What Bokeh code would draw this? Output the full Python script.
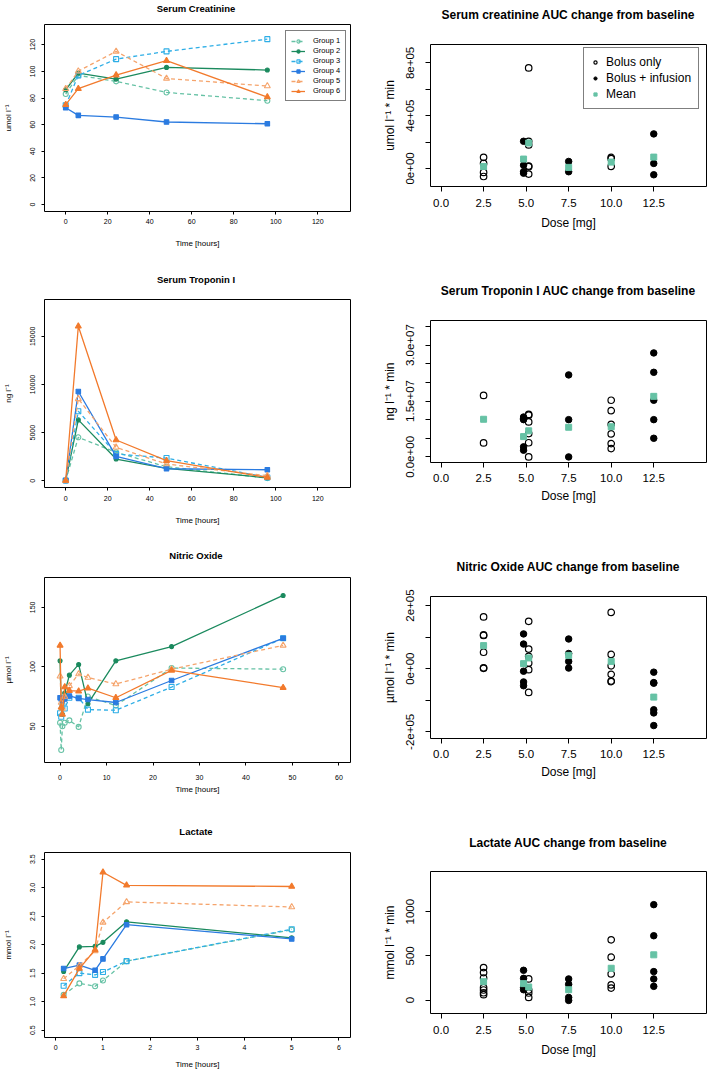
from bokeh.plotting import figure
from bokeh.layouts import column, row
from bokeh.models import Range1d, FixedTicker, Legend, LegendItem, Div
from bokeh.embed import file_html
from bokeh.resources import INLINE

FONT = "Liberation Sans"

# ---------------- time-course data ----------------
group_names = ["Group 1", "Group 2", "Group 3", "Group 4", "Group 5", "Group 6"]

creat_time = [0, 6, 24, 48, 96]
creat = {
    "Group 1": [83.0, 97.0, 92.5, 84.2, 78.0],
    "Group 2": [86.2, 98.7, 94.2, 103.0, 101.0],
    "Group 3": [74.5, 97.0, 109.2, 115.0, 124.2],
    "Group 4": [72.7, 67.0, 65.7, 62.0, 60.7],
    "Group 5": [87.0, 100.2, 115.0, 94.7, 89.0],
    "Group 6": [75.0, 87.0, 97.2, 108.0, 80.7],
}

tropo_time = [0, 6, 24, 48, 96]
tropo = {
    "Group 1": [30, 4514, 2951, 1458, 278],
    "Group 2": [30, 6319, 2257, 1285, 312],
    "Group 3": [30, 7222, 2778, 2361, 347],
    "Group 4": [30, 9270, 2535, 1250, 1146],
    "Group 5": [30, 8507, 3472, 1736, 521],
    "Group 6": [30, 16040, 4236, 2083, 347],
}

no_time = [0, 0.25, 0.5, 1, 2, 4, 6, 12, 24, 48]
no = {
    "Group 1": [53, 30, 50, 53, 55, 49.5, 75, 67.5, 99, 98],
    "Group 2": [105, 65, 60, 78, 93, 102, 69, 105, 117, 160],
    "Group 3": [61, 58, 67, 65, 74, 74, 64, 63.5, 83, 124],
    "Group 4": [74, 73, 72, 73, 75.5, 73.5, 72.5, 70, 88.5, 124],
    "Group 5": [92, 70, 65, 75, 84, 94, 91, 85.5, 98, 118],
    "Group 6": [118, 66, 60, 83, 80, 79.5, 82, 74, 97, 82.5],
}

lac_time = [1 / 6, 0.5, 5 / 6, 1.0, 1.5, 5.0]
lac = {
    "Group 1": [1.12, 1.32, 1.27, 1.37, 1.71, 2.26],
    "Group 2": [1.53, 1.96, 1.97, 2.04, 2.40, 2.12],
    "Group 3": [1.28, 1.50, 1.47, 1.52, 1.71, 2.27],
    "Group 4": [1.58, 1.64, 1.55, 1.75, 2.35, 2.10],
    "Group 5": [1.40, 1.63, 1.89, 2.39, 2.75, 2.66],
    "Group 6": [1.10, 1.58, 1.91, 3.27, 3.04, 3.02],
}

# ---------------- AUC data (dose -> values) ----------------
cr_bolus = {2.5: [0.84e5, 0.38e5, -0.30e5, -0.61e5],
            5.0: [7.62e5, 2.06e5, 1.78e5, 0.18e5, 0.13e5, -0.43e5],
            10.0: [0.84e5, 0.74e5, 0.15e5]}
cr_infusion = {5.0: [2.06e5, 0.25e5, -0.25e5, -0.36e5],
               7.5: [0.53e5, -0.25e5],
               12.5: [2.62e5, 0.38e5, -0.48e5]}
cr_bolus_mean = {2.5: 0.15e5, 5.0: 1.93e5, 10.0: 0.48e5}
cr_infusion_mean = {5.0: 0.71e5, 7.5: 0.08e5, 12.5: 0.86e5}

tr_bolus = {2.5: [1.65e7, 0.375e7],
            5.0: [1.14e7, 1.12e7, 0.94e7, 0.625e7, 0.38e7, 0.0],
            10.0: [1.52e7, 1.24e7, 0.875e7, 0.616e7, 0.357e7, 0.223e7]}
tr_infusion = {5.0: [1.07e7, 1.03e7, 1.0e7, 0.27e7, 0.18e7],
               7.5: [2.2e7, 1.0e7, 0.0],
               12.5: [2.79e7, 2.27e7, 1.52e7, 1.0e7, 0.5e7]}
tr_bolus_mean = {2.5: 1.01e7, 5.0: 0.70e7, 10.0: 0.81e7}
tr_infusion_mean = {5.0: 0.545e7, 7.5: 0.795e7, 12.5: 1.625e7}

no_bolus = {2.5: [1.64e5, 1.07e5, 1.05e5, 0.52e5, 0.03e5, 0.01e5],
            5.0: [1.5e5, 0.62e5, 0.39e5, 0.18e5, -0.03e5, -0.75e5],
            10.0: [1.78e5, 0.45e5, 0.09e5, -0.18e5, -0.39e5, -0.41e5]}
no_infusion = {5.0: [1.1e5, 0.78e5, -0.08e5, -0.42e5, -0.54e5],
               7.5: [0.94e5, 0.48e5, 0.23e5, 0.02e5],
               12.5: [-0.11e5, -0.44e5, -0.46e5, -1.3e5, -1.4e5, -1.8e5]}
no_bolus_mean = {2.5: 0.73e5, 5.0: 0.34e5, 10.0: 0.23e5}
no_infusion_mean = {5.0: 0.16e5, 7.5: 0.42e5, 12.5: -0.9e5}

la_bolus = {2.5: [368, 311, 250, 140, 114, 83, 61],
            5.0: [239, 114, 80, 30],
            10.0: [682, 485, 296, 171, 136]}
la_infusion = {5.0: [337, 246, 144, 117],
               7.5: [239, 178, 30, -4],
               12.5: [1080, 728, 322, 239, 155]}
la_bolus_mean = {2.5: 208, 5.0: 148, 10.0: 360}
la_infusion_mean = {5.0: 186, 7.5: 117, 12.5: 512}

# ---------------- styles ----------------
group_colors = ["#66c2a5", "#1b8a5e", "#2eaee6", "#2b7be0", "#f5a46c", "#f27a2c"]
group_dash = ["4 3", "solid", "4 3", "solid", "4 3", "solid"]
group_marker = ["circle", "circle", "square", "square", "triangle", "triangle"]
group_filled = [False, True, False, True, False, True]
group_size = [5, 4, 5, 4.5, 6, 6]
MEAN_COLOR = "#66c2a5"

LEFT_W, RIGHT_W = 355, 353
LEFT_B, RIGHT_B = (42, 5), (75, 2)


def title_div(text, width, frame_left, frame_w, pad_top, line_h, font_size):
    html = ('<div style="margin-left:%dpx;width:%dpx;padding-top:%dpx;text-align:center;'
            "font-family:'Liberation Sans',Arial,sans-serif;font-weight:bold;font-size:%s;"
            'line-height:%dpx;color:#000;white-space:nowrap">%s</div>'
            % (frame_left, frame_w, pad_top, font_size, line_h, text))
    return Div(text=html, width=width, height=pad_top + line_h, margin=(0, 0, 0, 0))


def base_fig(w, h, xr, yr, borders, xlabel, ylabel):
    p = figure(width=w, height=h, x_range=Range1d(*xr), y_range=Range1d(*yr),
               output_backend="svg", toolbar_location=None,
               min_border_left=borders[0], min_border_right=borders[1],
               min_border_top=borders[2], min_border_bottom=borders[3],
               x_axis_label=xlabel, y_axis_label=ylabel)
    p.xgrid.visible = False
    p.ygrid.visible = False
    p.outline_line_color = "black"
    p.outline_line_width = 1
    p.outline_line_alpha = 1
    p.background_fill_color = "white"
    p.border_fill_color = "white"
    return p


def style_axis(ax, ticks, labels, tick_out, tick_fs, lab_fs, tick_standoff, lab_standoff, vertical=False):
    ax.ticker = FixedTicker(ticks=ticks)
    ax.major_label_overrides = {t: l for t, l in zip(ticks, labels)}
    ax.axis_line_color = None
    ax.major_tick_line_color = "black"
    ax.major_tick_in = 0
    ax.major_tick_out = tick_out
    ax.minor_tick_line_color = None
    ax.major_label_text_font = FONT
    ax.major_label_text_font_size = tick_fs
    ax.major_label_text_color = "black"
    ax.major_label_standoff = tick_standoff
    ax.axis_label_text_font = FONT
    ax.axis_label_text_font_size = lab_fs
    ax.axis_label_text_font_style = "normal"
    ax.axis_label_text_color = "black"
    ax.axis_label_standoff = lab_standoff
    if vertical:
        ax.major_label_orientation = "vertical"


def draw_groups(p, times, data):
    items = []
    for i, g in enumerate(group_names):
        ys = data[g]
        r1 = p.line(times, ys, line_color=group_colors[i], line_width=1.3, line_dash=group_dash[i])
        r2 = p.scatter(times, ys, marker=group_marker[i], size=group_size[i],
                       line_color=group_colors[i], line_width=1.1,
                       fill_color=group_colors[i] if group_filled[i] else None)
        items.append(LegendItem(label=g, renderers=[r1, r2]))
    return items


def time_fig(h, top, bottom, xr, yr, xticks, yticks, ylabels, ylab,
             x_tick_standoff, x_lab_standoff, times, data, legend=False):
    p = base_fig(LEFT_W, h, xr, yr, (LEFT_B[0], LEFT_B[1], top, bottom), "Time [hours]", ylab)
    style_axis(p.xaxis[0], xticks, [str(t) for t in xticks], 3, "7px", "8px", x_tick_standoff, x_lab_standoff)
    style_axis(p.yaxis[0], yticks, ylabels, 3, "7px", "8px", 6, 15, vertical=True)
    items = draw_groups(p, times, data)
    if legend:
        lg = Legend(items=items, location=(241, 110))
        lg.label_text_font = FONT
        lg.label_text_font_size = "7.5px"
        lg.label_text_color = "black"
        lg.glyph_width = 14
        lg.glyph_height = 8
        lg.label_height = 8
        lg.spacing = 1
        lg.padding = 5
        lg.margin = 0
        lg.label_standoff = 8
        lg.border_line_color = "black"
        lg.border_line_width = 1
        lg.background_fill_color = "white"
        lg.background_fill_alpha = 1
        p.add_layout(lg)
    return p


def dose_x(dose, sign, bolus, infusion):
    if dose in bolus and dose in infusion:
        return dose + sign * 0.15
    return dose


def auc_fig(h, top, bottom, yr, yticks, ylabels, ylab,
            x_tick_standoff, x_lab_standoff, bolus, infusion, bolus_mean, infusion_mean, legend=False):
    xticks = [0.0, 2.5, 5.0, 7.5, 10.0, 12.5]
    p = base_fig(RIGHT_W, h, (-0.62, 15.6), yr, (RIGHT_B[0], RIGHT_B[1], top, bottom), "Dose [mg]", ylab)
    style_axis(p.xaxis[0], xticks, ["0.0", "2.5", "5.0", "7.5", "10.0", "12.5"], 5, "11.5px", "12px",
               x_tick_standoff, x_lab_standoff)
    style_axis(p.yaxis[0], yticks, ylabels, 5, "11.5px", "12px", 11, 7, vertical=True)

    bx, by = [], []
    for d, vals in bolus.items():
        for v in vals:
            bx.append(dose_x(d, 1, bolus, infusion))
            by.append(v)
    ix, iy = [], []
    for d, vals in infusion.items():
        for v in vals:
            ix.append(dose_x(d, -1, bolus, infusion))
            iy.append(v)
    mx, my = [], []
    for d, v in bolus_mean.items():
        mx.append(dose_x(d, 1, bolus, infusion))
        my.append(v)
    for d, v in infusion_mean.items():
        mx.append(dose_x(d, -1, bolus, infusion))
        my.append(v)

    r_b = p.scatter(bx, by, marker="circle", size=6.5, line_color="black", line_width=1.2, fill_color=None)
    r_i = p.scatter(ix, iy, marker="circle", size=6.5, line_color="black", fill_color="black")
    r_m = p.scatter(mx, my, marker="square", size=6, line_color=MEAN_COLOR, fill_color=MEAN_COLOR)
    if legend:
        lg = Legend(items=[LegendItem(label="Bolus only", renderers=[r_b]),
                           LegendItem(label="Bolus + infusion", renderers=[r_i]),
                           LegendItem(label="Mean", renderers=[r_m])],
                    location=(153, 77))
        lg.label_text_font = FONT
        lg.label_text_font_size = "12px"
        lg.label_text_color = "black"
        lg.glyph_width = 8
        lg.glyph_height = 14
        lg.label_height = 14
        lg.spacing = 2
        lg.padding = 7
        lg.margin = 0
        lg.label_standoff = 7
        lg.border_line_color = "black"
        lg.border_line_width = 1
        lg.background_fill_color = "white"
        lg.background_fill_alpha = 1
        p.add_layout(lg)
    return p


def left_title(text, pad_top, line_h=12):
    return title_div(text, LEFT_W, LEFT_B[0], 308, pad_top, line_h, "9.5px")


def right_title(text, pad_top):
    return title_div(text, RIGHT_W, RIGHT_B[0], 276, pad_top, 14, "12px")


# ---------------- panels ----------------
t1 = left_title("Serum Creatinine", 0, 12)
f1 = time_fig(253, 12, 54, (-10.1, 135.6), (-5.2, 135.2),
              [0, 20, 40, 60, 80, 100, 120], [0, 20, 40, 60, 80, 100, 120],
              ["0", "20", "40", "60", "80", "100", "120"], "umol l\u207b\u00b9",
              4, 12, creat_time, creat, legend=True)
t3 = left_title("Serum Troponin I", 9)
f3 = time_fig(244, 13, 43, (-10.1, 135.6), (-698, 18823),
              [0, 20, 40, 60, 80, 100, 120], [0, 5000, 10000, 15000],
              ["0", "5000", "10000", "15000"], "ng l\u207b\u00b9",
              5, 12, tropo_time, tropo)
t5 = left_title("Nitric Oxide", 20)
f5 = time_fig(238, 15, 38, (-3.35, 62.5), (19.55, 175.1),
              [0, 10, 20, 30, 40, 50, 60], [50, 100, 150],
              ["50", "100", "150"], "\u00b5mol l\u207b\u00b9",
              9, 2, no_time, no)
t7 = left_title("Lactate", 26)
f7 = time_fig(233, 14, 32, (-0.239, 6.246), (0.371, 3.616),
              [0, 1, 2, 3, 4, 5, 6], [0.5, 1.0, 1.5, 2.0, 2.5, 3.0, 3.5],
              ["0.5", "1.0", "1.5", "2.0", "2.5", "3.0", "3.5"], "mmol l\u207b\u00b9",
              4, 7, lac_time, lac)

t2 = right_title("Serum creatinine AUC change from baseline", 8)
f2 = auc_fig(243, 22, 79, (-1.37e5, 9.40e5), [0, 2e5, 4e5, 6e5, 8e5], ["0e+00", "", "4e+05", "", "8e+05"],
             "umol l\u207b\u00b9 * min", 7, 6, cr_bolus, cr_infusion, cr_bolus_mean, cr_infusion_mean,
             legend=True)
t4 = right_title("Serum Troponin I AUC change from baseline", 19)
f4 = auc_fig(232, 22, 68, (-1.5e6, 3.66e7), [0, 5e6, 1e7, 1.5e7, 2e7, 2.5e7, 3e7, 3.5e7],
             ["0.0e+00", "", "", "1.5e+07", "", "", "3.0e+07", ""],
             "ng l\u207b\u00b9 * min", 6, 4, tr_bolus, tr_infusion, tr_bolus_mean, tr_infusion_mean)
t6 = right_title("Nitric Oxide AUC change from baseline", 30)
f6 = auc_fig(226, 22, 62, (-2.21e5, 2.285e5), [-2e5, -1e5, 0, 1e5, 2e5], ["-2e+05", "", "0e+00", "", "2e+05"],
             "\u00b5mol l\u207b\u00b9 * min", 6, 4, no_bolus, no_infusion, no_bolus_mean, no_infusion_mean)
t8 = right_title("Lactate AUC change from baseline", 36)
f8 = auc_fig(221, 21, 58, (-152, 1455), [0, 500, 1000], ["0", "500", "1000"],
             "mmol l\u207b\u00b9 * min", 7, 6, la_bolus, la_infusion, la_bolus_mean, la_infusion_mean)

layout = row(column(t1, f1, t3, f3, t5, f5, t7, f7),
             column(t2, f2, t4, f4, t6, f6, t8, f8))

open("out.html", "w").write(file_html(layout, INLINE))
